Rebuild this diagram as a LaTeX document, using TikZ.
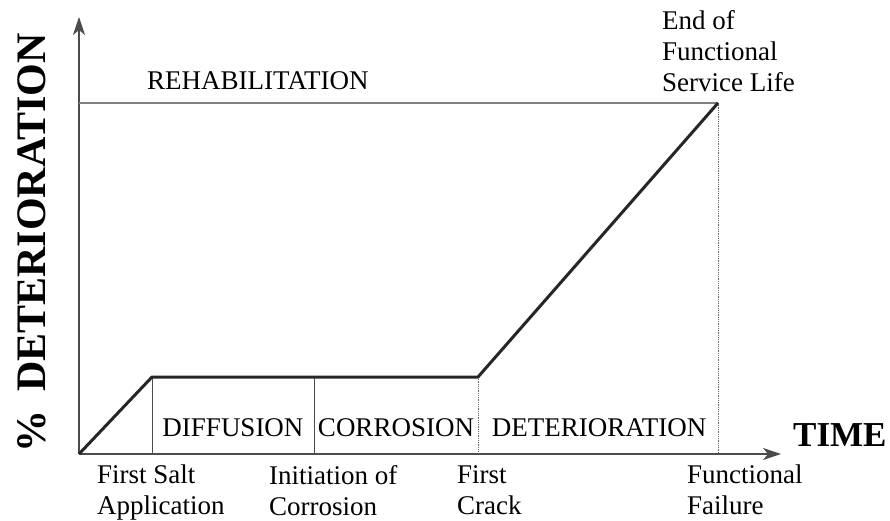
\documentclass[tikz,border=0pt]{standalone}
\usepackage{fontspec}
\setmainfont{Liberation Serif}
\usetikzlibrary{arrows.meta}

\begin{document}
\begin{tikzpicture}[x=1pt,y=1pt,
    lbl/.style={font=\fontsize{27}{31}\selectfont,inner sep=0pt,align=left,anchor=north west},
    phase/.style={font=\fontsize{27}{31}\selectfont,inner sep=0pt,anchor=base},
    axis line/.style={draw=black!70,line width=1.2pt},
    axis tip/.tip={Stealth[length=18pt,width=12pt,inset=5pt]},
    rehab line/.style={draw=black!50,line width=1.4pt},
    curve/.style={draw=black!85,line width=3pt,line join=round},
    divider/.style={draw=black!70,line width=0.8pt},
    dotline/.style={draw=black!60,line width=0.8pt,densely dotted}]

  \useasboundingbox (0,0) rectangle (890,520);

  \coordinate (o) at (79,66);
  \coordinate (ytip) at (79,503);
  \coordinate (xtip) at (781,66);
  \coordinate (salt) at (152,143);
  \coordinate (init) at (314,143);
  \coordinate (crack) at (478,143);
  \coordinate (fail) at (718,417);
  \coordinate (rehab) at (79,417);

  % axes and limits
  \draw[axis line,-axis tip] (o) -- (ytip);
  \draw[axis line,-axis tip] (o) -- (xtip);
  \draw[rehab line] (rehab) -- (fail);
  \draw[divider] (salt) -- (salt |- o);
  \draw[divider] (init) -- (init |- o);
  \draw[dotline] (crack) -- (crack |- o);
  \draw[dotline] (fail) -- (fail |- o);
  \draw[curve] (o) -- (salt) -- (crack) -- (fail);

  % phases
  \node[phase] (diff) at (233,84) {DIFFUSION};
  \node[phase] (corr) at (396,84) {CORROSION};
  \node[phase] (det) at (599,84) {DETERIORATION};
  \node[phase,anchor=base west] (reh) at (147,430) {REHABILITATION};

  % events
  \node[lbl] (saltlbl) at (97,55) {First Salt\\Application};
  \node[lbl] (initlbl) at (269,55) {Initiation of\\Corrosion};
  \node[lbl] (cracklbl) at (457,55) {First\\Crack};
  \node[lbl] (faillbl) at (687,55) {Functional\\Failure};
  \node[lbl] (endlbl) at (662,510) {End of\\Functional\\Service Life};

  % axis titles
  \node[inner sep=0pt,anchor=base west,font=\fontsize{35}{40}\selectfont\bfseries] (time) at (793,74) {TIME};
  \node[inner sep=0pt,anchor=base,rotate=90,font=\fontsize{42}{46}\selectfont\bfseries] (ylbl) at (45,277) {\%\hspace{0.45em}DETERIORATION};
\end{tikzpicture}
\end{document}
